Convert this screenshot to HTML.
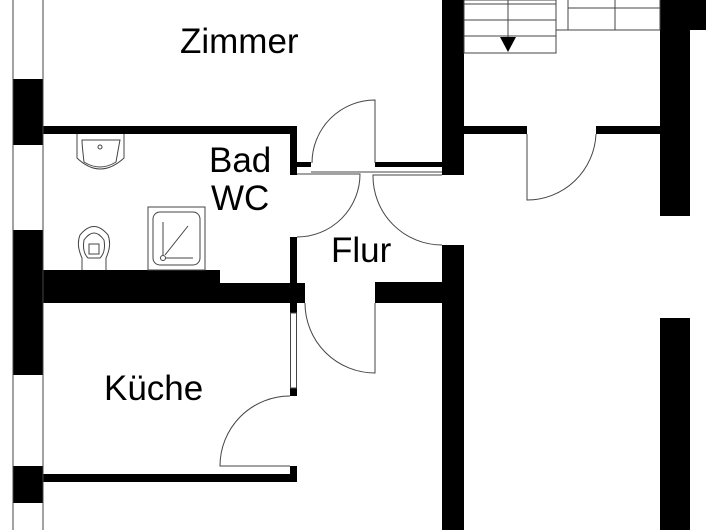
<!DOCTYPE html>
<html><head><meta charset="utf-8"><style>html,body{margin:0;padding:0;background:#fff}svg{display:block}</style></head><body>
<svg width="720" height="530" viewBox="0 0 720 530" xmlns="http://www.w3.org/2000/svg">
<g fill="#000">
<rect x="13" y="79" width="30" height="66"/>
<rect x="13" y="230" width="30" height="145"/>
<rect x="13" y="466" width="30" height="37"/>
<rect x="43" y="126" width="254" height="8"/>
<rect x="290" y="126" width="7" height="49"/>
<rect x="297" y="162" width="14" height="5"/>
<rect x="375" y="162" width="67" height="5"/>
<rect x="290" y="237" width="7" height="46"/>
<rect x="43" y="270" width="177" height="33"/>
<rect x="220" y="283" width="85" height="20"/>
<rect x="375" y="282" width="67" height="21"/>
<rect x="290" y="303" width="7" height="10"/>
<rect x="290" y="388" width="7" height="8"/>
<rect x="290" y="466" width="7" height="16"/>
<rect x="43" y="474" width="254" height="8"/>
<rect x="442" y="0" width="22" height="175"/>
<rect x="442" y="245" width="22" height="285"/>
<rect x="464" y="126" width="63" height="8"/>
<rect x="596" y="126" width="64" height="8"/>
<rect x="660" y="0" width="30" height="216"/>
<rect x="690" y="0" width="16" height="30"/>
<rect x="660" y="318" width="30" height="212"/>
</g>
<g fill="none" stroke="#444" stroke-width="1">
<line x1="13" y1="0" x2="13" y2="530"/>
<line x1="43" y1="0" x2="43" y2="530"/>
<rect x="290.5" y="313" width="6" height="75"/>
<line x1="311" y1="172" x2="442" y2="172"/>
<path d="M312 163 A63 63 0 0 1 375 100 L375 163"/>
<path d="M297 174 L360 174 A63 63 0 0 1 297 237"/>
<path d="M442 175 L373 175 A69 69 0 0 0 442 245"/>
<path d="M527 134 L527 200 A69 69 0 0 0 596 134"/>
<path d="M305 303 A70 70 0 0 0 375 373 L375 303"/>
<path d="M290 396 A70 70 0 0 0 220 466 L290 466"/>
<rect x="464" y="0" width="92" height="53"/>
<line x1="464" y1="4" x2="556" y2="4"/><line x1="464" y1="20" x2="556" y2="20"/><line x1="464" y1="36" x2="556" y2="36"/>
<line x1="508" y1="0" x2="508" y2="40"/>
<rect x="568" y="-1" width="92" height="31"/>
<line x1="568" y1="8" x2="660" y2="8"/>
<line x1="615" y1="0" x2="615" y2="30"/>
<line x1="556" y1="30" x2="568" y2="30"/>
<path d="M77 134 L77 158 Q100 180 124 158 L124 134"/>
<path d="M82 140 Q82 145 84 162 Q100 172 116 162 Q119 145 120 140 Z"/>
<circle cx="100" cy="147" r="2"/>
<path d="M82 270 L82 258 Q76 245 80 235 Q94 218 108 235 Q112 245 106 258 L106 270"/>
<path d="M84 240 Q94 226 104 240 Q106 252 100 258 L88 258 Q82 252 84 240 Z"/>
<rect x="89" y="244" width="10" height="10"/>
<rect x="148" y="207" width="57" height="63"/>
<rect x="153" y="212" width="47" height="53" rx="7"/>
<line x1="163" y1="222" x2="163" y2="255"/>
<line x1="165" y1="258" x2="193" y2="258"/>
<line x1="165" y1="255" x2="188" y2="226"/>
<circle cx="163" cy="258" r="2.5"/>
</g>
<polygon points="500,37 516,37 508,52" fill="#000"/>
<g font-family="Liberation Sans, sans-serif" font-size="35" fill="#000">
<text x="180" y="53">Zimmer</text>
<text x="209" y="172">Bad</text>
<text x="211" y="210">WC</text>
<text x="331" y="262">Flur</text>
<text x="104" y="400">Küche</text>
</g>
</svg>
</body></html>
